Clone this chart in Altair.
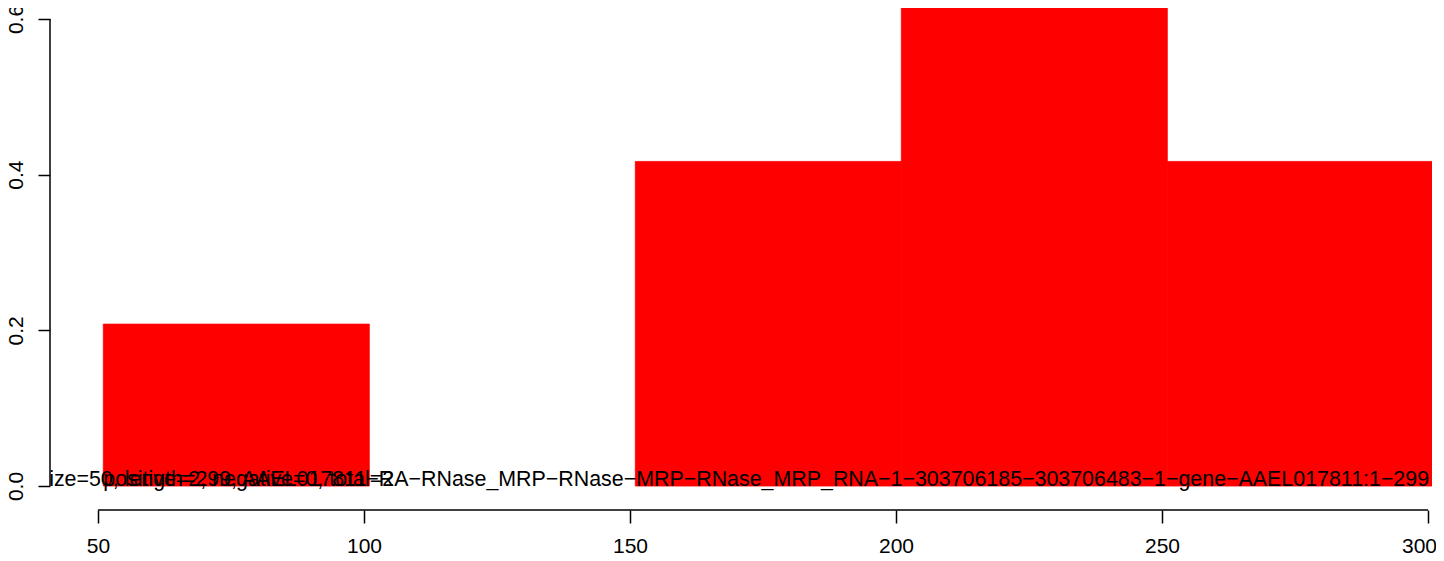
import altair as alt
import pandas as pd

# Histogram-like bins (start, end) and heights
bin_start = [51, 101, 151, 201, 251]
bin_end = [101, 151, 201, 251, 301]
heights = [0.208, 0.0, 0.417, 0.833, 0.417]

x_ticks = [50, 100, 150, 200, 250, 300]
y_ticks = [0.0, 0.2, 0.4, 0.6]

label_main = ("windowsize=50, length=299, AAEL017811\u2212RA\u2212RNase_MRP\u2212RNase\u2212MRP\u2212"
              "RNase_MRP_RNA\u22121\u2212303706185\u2212303706483\u22121\u2212gene\u2212AAEL017811:1\u2212299")
label_counts = "positive=2, negative=0, total=2"
label_main_x = [300.2]
label_counts_x = [51]

W, H = 1382, 502
FONT = "Liberation Sans"
FS_TEXT = 21.4
FS_TICK = 21

xs = alt.Scale(domain=[40.98, 300.75], nice=False, zero=False)
ys = alt.Scale(domain=[-0.0308, 0.6141], nice=False, zero=False)

bars_df = pd.DataFrame({"start": bin_start, "end": bin_end, "h": heights, "base": [0.0] * len(heights)})

bars = alt.Chart(bars_df).transform_filter("datum.h > 0").mark_rect(
    color="#FF0000", stroke="#FF0000", strokeWidth=0.8, clip=True
).encode(
    x=alt.X("start:Q", scale=xs,
            axis=alt.Axis(values=x_ticks, format="d", domain=False, grid=False, title=None,
                          tickSize=13, tickWidth=1.5, tickColor="black",
                          labelFontSize=FS_TICK, labelFont=FONT, labelColor="black",
                          labelPadding=12, labelOverlap=False, labelBound=False,
                          labelFlush=False,
                          labelOffset=alt.condition("datum.value == 300", alt.value(-9), alt.value(0)))),
    x2="end:Q",
    y=alt.Y("base:Q", scale=ys,
            axis=alt.Axis(values=y_ticks, format=".1f", domain=False, grid=False, title=None,
                          tickSize=12, tickWidth=1.5, tickColor="black",
                          labelFontSize=FS_TICK, labelFont=FONT, labelColor="black",
                          labelAngle=270, labelAlign="center", labelBaseline="bottom",
                          labelPadding=12, labelOverlap=False, labelBound=False,
                          labelFlush=False)),
    y2="h:Q",
)

main_df = pd.DataFrame({"x": label_main_x, "y": [0.0], "t": [label_main]})
counts_df = pd.DataFrame({"x": label_counts_x, "y": [0.0], "t": [label_counts]})

txt_r = alt.Chart(main_df).mark_text(
    align="right", baseline="alphabetic", fontSize=FS_TEXT, font=FONT, color="black", clip=True
).encode(x=alt.X("x:Q", scale=xs), y=alt.Y("y:Q", scale=ys), text="t:N")
txt_l = alt.Chart(counts_df).mark_text(
    align="left", baseline="alphabetic", fontSize=FS_TEXT, font=FONT, color="black", clip=True
).encode(x=alt.X("x:Q", scale=xs), y=alt.Y("y:Q", scale=ys), text="t:N")

# Axis lines spanning only the tick range (as in R)
xaxis_df = pd.DataFrame({"x": [min(x_ticks)], "x2": [max(x_ticks)]})
xaxis_line = alt.Chart(xaxis_df).mark_rule(color="black", strokeWidth=1.5).encode(
    x=alt.X("x:Q", scale=xs), x2="x2:Q", y=alt.value(H))
yaxis_df = pd.DataFrame({"y": [min(y_ticks)], "y2": [max(y_ticks)]})
yaxis_line = alt.Chart(yaxis_df).mark_rule(color="black", strokeWidth=1.5).encode(
    y=alt.Y("y:Q", scale=ys), y2="y2:Q", x=alt.value(0))

chart = alt.layer(bars, txt_r, txt_l, xaxis_line, yaxis_line).properties(
    width=W, height=H,
    autosize=alt.AutoSizeParams(type="none"),
    padding={"left": 42, "top": 0, "right": 4, "bottom": 43},
    background="white",
).configure_view(stroke=None)

chart.save("out.html", embed_options={"renderer": "svg", "actions": False})
